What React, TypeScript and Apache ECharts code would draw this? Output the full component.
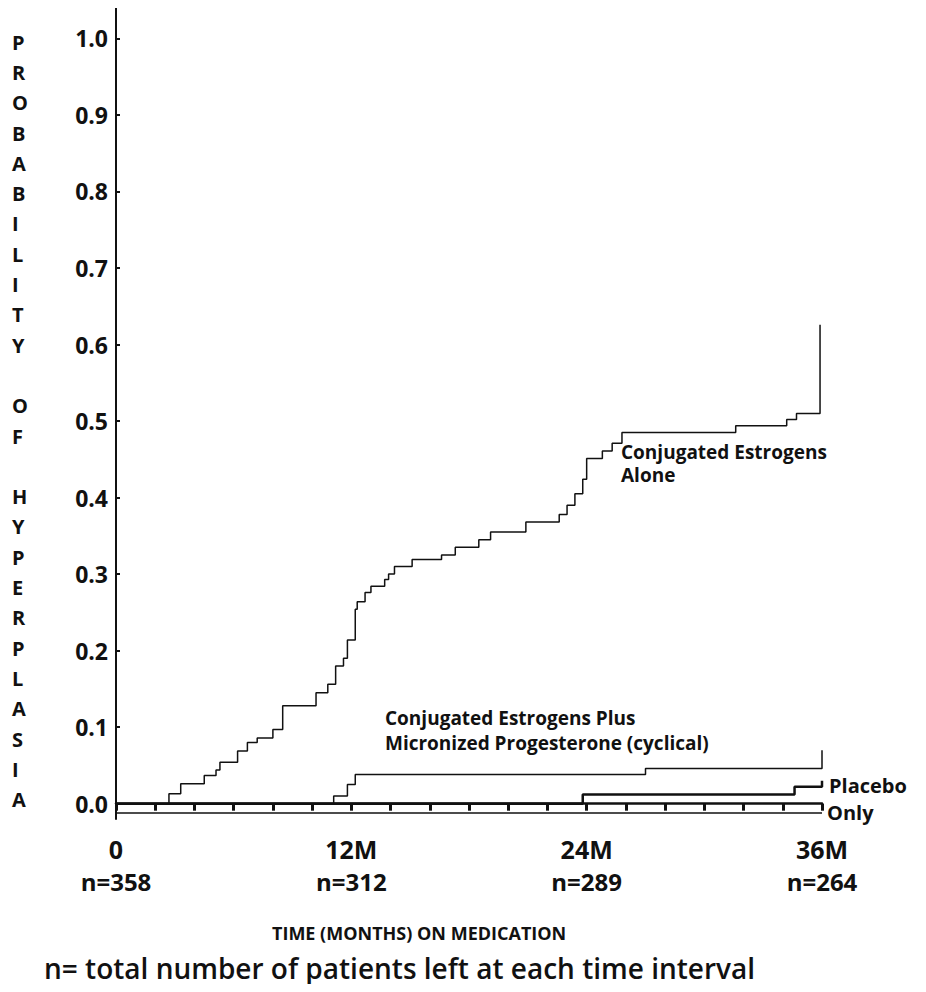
import { useEffect, useRef } from "react";
import * as echarts from "echarts";

// Kaplan-Meier style step data: [month, probability after the step]
const estrogensAlone: [number, number][] = [
  [0, 0], [2.7, 0.013], [3.3, 0.026], [4.5, 0.037], [5.1, 0.044], [5.3, 0.054],
  [6.2, 0.069], [6.7, 0.08], [7.2, 0.086], [8.0, 0.097], [8.5, 0.128], [10.2, 0.145],
  [10.8, 0.156], [11.2, 0.18], [11.6, 0.19], [11.8, 0.214], [12.2, 0.254], [12.3, 0.264],
  [12.7, 0.276], [13.0, 0.284], [13.7, 0.293], [13.9, 0.3], [14.2, 0.31], [15.1, 0.319],
  [16.6, 0.325], [17.3, 0.335], [18.5, 0.345], [19.1, 0.355], [20.9, 0.368], [22.6, 0.378],
  [23.0, 0.39], [23.4, 0.405], [23.8, 0.424], [24.0, 0.451], [24.8, 0.461], [25.3, 0.471],
  [25.8, 0.485], [31.6, 0.494], [34.2, 0.502], [34.7, 0.51], [35.9, 0.51], [35.9, 0.626],
];
const estrogensProgesterone: [number, number][] = [
  [0, 0], [11.1, 0.01], [11.8, 0.025], [12.2, 0.038], [27.0, 0.046], [36, 0.046], [36, 0.07],
];
const placebo: [number, number][] = [
  [0, 0], [23.8, 0.012], [34.6, 0.022], [36, 0.022], [36, 0.03],
];
const lowerLine: [number, number][] = [[0, -0.012], [36, -0.012]];

const xTicks = [0, 2, 4, 6, 8, 10, 12, 14, 16, 18, 20, 22, 24, 26, 28, 30, 32, 34, 36];
const xLabelValues = [0, 12, 24, 36];
const xLabels: Record<number, string> = { 0: "0", 12: "12M", 24: "24M", 36: "36M" };
const nLeft: Record<number, string> = { 0: "n=358", 12: "n=312", 24: "n=289", 36: "n=264" };
const yTicks = [0, 0.1, 0.2, 0.3, 0.4, 0.5, 0.6, 0.7, 0.8, 0.9, 1.0];
const yTitle = "PROBABILITY OF HYPERPLASIA";

const font = "'Open Sans', sans-serif";

export default function App() {
  const ref = useRef<HTMLDivElement>(null);

  useEffect(() => {
    if (!ref.current) return;
    const chart = echarts.init(ref.current, undefined, { renderer: "svg" });
    const line = (data: [number, number][], width: number) => ({
      type: "line",
      step: "end",
      symbol: "none",
      data,
      lineStyle: { color: "#111", width },
    });
    chart.setOption({
      animation: false,
      backgroundColor: "#fff",
      grid: { left: 116, right: 104, top: 4, bottom: 173 },
      xAxis: {
        type: "value",
        min: 0,
        max: 36,
        splitLine: { show: false },
        axisLine: { lineStyle: { color: "#111", width: 2.5 } },
        axisTick: { customValues: xTicks, length: 7, lineStyle: { color: "#111", width: 3 }, inside: false },
        axisLabel: {
          customValues: xLabelValues,
          margin: 14,
          formatter: (v: number) => `{a|${xLabels[v]}}\n{b|${nLeft[v]}}`,
          rich: {
            a: { fontFamily: font, fontWeight: "bold", fontSize: 25, color: "#111", lineHeight: 32 },
            b: { fontFamily: font, fontWeight: "bold", fontSize: 24, color: "#111", lineHeight: 32 },
          },
        },
      },
      yAxis: {
        type: "value",
        min: -0.02,
        max: 1.045,
        splitLine: { show: false },
        axisLine: { show: true, lineStyle: { color: "#111", width: 2 } },
        axisTick: { customValues: yTicks, length: 4, inside: true, lineStyle: { color: "#111", width: 2 } },
        axisLabel: {
          customValues: yTicks,
          formatter: (v: number) => v.toFixed(1),
          fontFamily: font,
          fontWeight: "bold",
          fontSize: 23,
          color: "#111",
          margin: 8,
        },
      },
      series: [
        line(estrogensAlone, 1.5),
        line(estrogensProgesterone, 1.5),
        line(placebo, 2.5),
        line(lowerLine, 1.5),
      ],
      graphic: [
        {
          type: "text",
          left: 12,
          top: 27,
          style: {
            text: yTitle.split("").join("\n"),
            fontFamily: font,
            fontWeight: "bold",
            fontSize: 20,
            lineHeight: 30.3,
            fill: "#111",
            align: "center",
          },
        },
        {
          type: "text",
          left: 621,
          top: 440,
          style: { text: "Conjugated Estrogens\nAlone", fontFamily: font, fontWeight: "bold", fontSize: 19, lineHeight: 23, fill: "#111" },
        },
        {
          type: "text",
          left: 385,
          top: 705,
          style: { text: "Conjugated Estrogens Plus\nMicronized Progesterone (cyclical)", fontFamily: font, fontWeight: "bold", fontSize: 19, lineHeight: 25, fill: "#111" },
        },
        {
          type: "text",
          left: 829,
          top: 775,
          style: { text: "Placebo", fontFamily: font, fontWeight: "bold", fontSize: 20, fill: "#111" },
        },
        {
          type: "text",
          left: 827,
          top: 802,
          style: { text: "Only", fontFamily: font, fontWeight: "bold", fontSize: 20, fill: "#111" },
        },
        {
          type: "text",
          left: 272,
          top: 924,
          style: { text: "TIME (MONTHS) ON MEDICATION", fontFamily: font, fontWeight: "bold", fontSize: 18, fill: "#111" },
        },
        {
          type: "text",
          left: 44,
          top: 954,
          style: { text: "n= total number of patients left at each time interval", fontFamily: font, fontWeight: 600, fontSize: 28, fill: "#111" },
        },
      ],
    });
    return () => chart.dispose();
  }, []);

  return <div ref={ref} style={{ width: 926, height: 992, margin: -8 }} />;
}
